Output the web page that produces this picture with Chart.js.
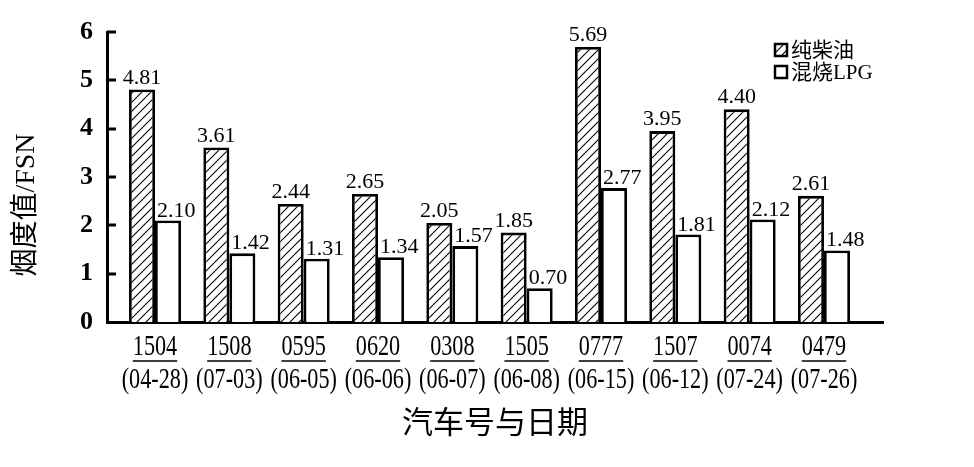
<!DOCTYPE html>
<html>
<head>
<meta charset="utf-8">
<script src="https://cdn.jsdelivr.net/npm/chart.js@4.4.0/dist/chart.umd.min.js"></script>
<style>html,body{margin:0;padding:0;background:#fff}</style>
</head>
<body>
<canvas id="chart" width="974" height="467"></canvas>
<script>
// vehicle no. + date -> x axis
const carNos = ['1504', '1508', '0595', '0620', '0308', '1505', '0777', '1507', '0074', '0479'];
const carDates = ['(04-28)', '(07-03)', '(06-05)', '(06-06)', '(06-07)', '(06-08)', '(06-15)', '(06-12)', '(07-24)', '(07-26)'];
const seriesNames = ['纯柴油', '混烧LPG'];
// smoke values -> y axis
const dieselVals = [4.81, 3.61, 2.44, 2.65, 2.05, 1.85, 5.69, 3.95, 4.40, 2.61];
const lpgVals = [2.10, 1.42, 1.31, 1.34, 1.57, 0.70, 2.77, 1.81, 2.12, 1.48];
const yTicks = [0, 1, 2, 3, 4, 5, 6];
const yTitle = '烟度值/FSN';
const xTitle = '汽车号与日期';

const serif = "'Liberation Serif', 'Times New Roman', serif";
const cjk = "'Liberation Serif', 'Noto Sans CJK SC', serif";

function hatch() {
  const s = 9;
  const c = document.createElement('canvas');
  c.width = s; c.height = s;
  const g = c.getContext('2d');
  g.fillStyle = '#fff';
  g.fillRect(0, 0, s, s);
  g.strokeStyle = '#000';
  g.lineWidth = 1.1;
  g.beginPath();
  g.moveTo(0, s); g.lineTo(s, 0);
  g.moveTo(-2, 2); g.lineTo(2, -2);
  g.moveTo(s - 2, s + 2); g.lineTo(s + 2, s - 2);
  g.stroke();
  return g.createPattern(c, 'repeat');
}

// everything the library has no option for: inward ticks, value labels,
// two-line underlined x labels, titles and the small legend
const decor = {
  id: 'decor',
  afterDatasetsDraw(chart) {
    const ctx = chart.ctx;
    const xs = chart.scales.x, ys = chart.scales.y, area = chart.chartArea;
    ctx.save();
    ctx.fillStyle = '#000';
    ctx.strokeStyle = '#000';

    // ticks pointing into the plot
    ctx.lineWidth = 3;
    yTicks.slice(1).forEach(t => {
      const py = Math.round(ys.getPixelForValue(t));
      ctx.beginPath();
      ctx.moveTo(area.left, py);
      ctx.lineTo(area.left + 9, py);
      ctx.stroke();
    });

    // values over bars
    ctx.font = '22px ' + serif;
    ctx.textBaseline = 'alphabetic';
    chart.data.datasets.forEach((ds, di) => {
      chart.getDatasetMeta(di).data.forEach((bar, i) => {
        const txt = ds.data[i].y.toFixed(2);
        if (di === 0) {
          ctx.textAlign = 'center';
          ctx.fillText(txt, bar.x, bar.y - 6);
        } else {
          ctx.textAlign = 'left';
          ctx.fillText(txt, bar.x - bar.width / 2 + 2, bar.y - 4);
        }
      });
    });

    // x labels (condensed, number underlined)
    const sx = 0.74;
    ctx.font = '30px ' + serif;
    ctx.textAlign = 'center';
    carNos.forEach((no, i) => {
      const px = xs.getPixelForValue(i);
      ctx.save();
      ctx.translate(px, 355);
      ctx.scale(sx, 1);
      ctx.fillText(no, 0, 0);
      ctx.restore();
      const w = ctx.measureText(no).width * sx;
      ctx.lineWidth = 1.6;
      ctx.beginPath();
      ctx.moveTo(px - w / 2, 361);
      ctx.lineTo(px + w / 2, 361);
      ctx.stroke();
      ctx.save();
      ctx.translate(px, 388);
      ctx.scale(sx, 1);
      ctx.fillText(carDates[i], 0, 0);
      ctx.restore();
    });

    // axis titles
    ctx.textBaseline = 'middle';
    ctx.font = '31px ' + cjk;
    ctx.fillText(xTitle, (area.left + area.right) / 2, 425);
    ctx.save();
    ctx.translate(27, 205);
    ctx.rotate(-Math.PI / 2);
    ctx.font = '28px ' + cjk;
    ctx.fillText(yTitle, 0, 0);
    ctx.restore();

    // legend
    ctx.textAlign = 'left';
    ctx.font = '21px ' + cjk;
    chart.data.datasets.forEach((ds, di) => {
      const by = 44 + di * 22;
      ctx.fillStyle = ds.backgroundColor;
      ctx.fillRect(775, by, 12, 12);
      ctx.lineWidth = 2.5;
      ctx.strokeRect(775, by, 12, 12);
      ctx.fillStyle = '#000';
      ctx.fillText(ds.label, 791, by + 7);
    });
    ctx.restore();
  }
};

const data = {
  datasets: [{
    label: seriesNames[0],
    data: dieselVals.map((v, i) => ({ x: i, y: v })),
    backgroundColor: hatch(),
    borderColor: '#000',
    borderWidth: 2.8,
    categoryPercentage: 0.7,
    barPercentage: 1.0
  }, {
    label: seriesNames[1],
    data: lpgVals.map((v, i) => ({ x: i, y: v })),
    backgroundColor: '#fff',
    borderColor: '#000',
    borderWidth: 2.8,
    categoryPercentage: 0.7,
    barPercentage: 1.0
  }]
};

const config = {
  type: 'bar',
  data: data,
  options: {
    responsive: false,
    animation: false,
    layout: { padding: { top: 32, right: 91, left: 0, bottom: 0 } },
    plugins: { legend: { display: false }, tooltip: { enabled: false } },
    scales: {
      x: {
        type: 'linear',
        offset: false,
        min: -0.646,
        max: 9.794,
        grid: { display: false, drawTicks: false },
        ticks: { display: false },
        border: { display: true, color: '#000', width: 3 },
        afterFit: s => { s.height = 145; }
      },
      y: {
        min: 0,
        max: 6,
        afterBuildTicks: s => { s.ticks = yTicks.map(v => ({ value: v })); },
        grid: { display: false, drawTicks: false },
        ticks: { color: '#000', font: { family: serif, size: 26, weight: 'bold' }, padding: 14 },
        border: { display: true, color: '#000', width: 3 },
        afterFit: s => { s.width = 107; }
      }
    }
  },
  plugins: [decor]
};

var myChart = new Chart(document.getElementById('chart').getContext('2d'), config);
</script>
</body>
</html>
